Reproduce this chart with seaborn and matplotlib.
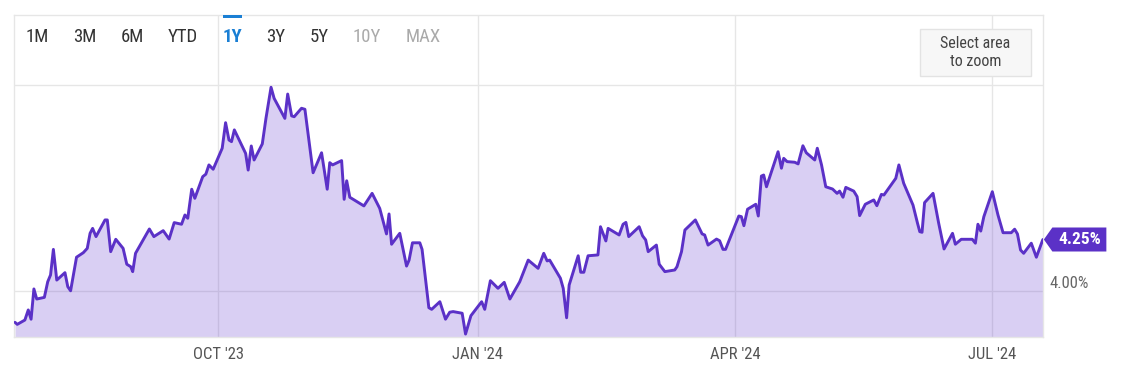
import os
import numpy as np
import pandas as pd
import matplotlib
matplotlib.use("Agg")
import matplotlib.pyplot as plt
import matplotlib.dates as mdates
import matplotlib.transforms as mtransforms
from matplotlib import font_manager as fm
from matplotlib.patches import Polygon, Rectangle
import seaborn as sns

# ---------------- data ----------------
start_date = "2023-07-21"
day_offsets = [
    0.0, 0.8, 3.5, 4.7, 5.7, 6.7, 7.7, 10.4, 11.6, 12.6, 13.6, 14.8, 17.7, 18.7, 19.7, 21.8,
    24.2, 25.6, 26.6, 27.5, 28.7, 31.9, 32.7, 33.9, 35.7, 38.3, 39.6, 41.0, 41.7, 42.7, 47.6,
    49.2, 52.5, 54.6, 56.4, 59.0, 60.2, 61.2, 62.6, 63.7, 66.5, 67.6, 68.7, 70.2, 73.4, 74.6,
    75.8, 76.7, 77.7, 80.8, 81.7, 82.6, 83.7, 84.7, 87.6, 88.9,
    90.7, 91.8, 95.6, 96.6, 98.0, 98.9, 101.5, 102.7, 105.6, 108.6, 110.6, 111.5, 112.5, 115.7,
    116.6, 117.5, 118.6, 123.6, 126.5, 129.2, 131.6, 132.5, 133.4, 136.3, 138.7, 139.6, 140.8,
    143.4, 144.2, 146.6, 147.6, 150.5, 152.5, 154.0, 155.2, 158.4, 159.6, 161.5, 165.3, 166.4,
    168.4, 171.1, 173.3, 175.3, 178.8,
    181.8, 185.3, 187.3, 188.5, 189.4, 193.2, 194.2, 195.4, 196.3, 199.5, 200.4, 201.5, 203.0,
    206.5, 207.4, 209.3, 210.1, 214.0, 215.4, 216.4, 217.4, 221.1, 222.3, 223.4, 224.3, 227.2,
    228.2, 230.2, 233.7, 234.5, 236.1, 237.3, 241.0, 243.4, 244.3, 245.5, 248.5, 249.6, 250.8,
    251.7, 256.4, 257.3, 258.2, 259.5, 262.4, 263.3, 264.4, 265.2, 266.2, 270.3,
    271.5, 272.3, 273.5, 276.2, 277.4, 279.1, 280.3, 283.3, 284.2, 285.7, 287.2, 289.6, 291.2,
    292.1, 293.3, 294.3, 297.1, 298.3, 299.2, 301.2, 304.2, 305.3, 306.9, 307.8, 312.0, 313.1,
    314.8, 318.1, 319.7, 320.5, 321.3, 322.2, 325.2, 327.2, 329.1, 332.1, 333.1, 335.2, 339.1,
    340.2, 341.1, 342.1, 343.2, 346.2, 348.2, 350.0, 352.9, 354.1, 355.1, 356.2, 357.3, 360.0,
    361.8, 364.1,
]
yield_pct = [
    3.848, 3.838, 3.859, 3.908, 3.863, 4.010, 3.961, 3.969, 4.045, 4.078, 4.202, 4.053, 4.089,
    4.021, 4.001, 4.164, 4.186, 4.207, 4.280, 4.304, 4.264, 4.345, 4.345, 4.191, 4.251, 4.207,
    4.130, 4.118, 4.094, 4.183, 4.301, 4.264, 4.293, 4.252, 4.332, 4.324, 4.369, 4.353, 4.494,
    4.450, 4.555, 4.567, 4.612, 4.591, 4.693, 4.817, 4.733, 4.725, 4.782, 4.693, 4.668, 4.587,
    4.704, 4.636, 4.714, 4.838,
    4.989, 4.935, 4.838, 4.956, 4.850, 4.846, 4.887, 4.882, 4.574, 4.671, 4.494, 4.623, 4.612,
    4.633, 4.445, 4.535, 4.455, 4.413, 4.474, 4.401, 4.277, 4.374, 4.227, 4.280, 4.121, 4.150,
    4.234, 4.234, 4.202, 3.919, 3.911, 3.948, 3.863, 3.897, 3.900, 3.892, 3.791, 3.880, 3.948,
    3.911, 4.050, 4.013, 4.042, 3.961, 4.045,
    4.150, 4.110, 4.183, 4.146, 4.150, 4.062, 4.013, 3.870, 4.029, 4.171, 4.091, 4.091, 4.171,
    4.175, 4.312, 4.243, 4.304, 4.272, 4.324, 4.333, 4.264, 4.312, 4.268, 4.248, 4.191, 4.223,
    4.130, 4.094, 4.102, 4.118, 4.191, 4.296, 4.345, 4.277, 4.272, 4.223, 4.252, 4.244, 4.202,
    4.202, 4.364, 4.361, 4.317, 4.397, 4.421, 4.364, 4.558, 4.563, 4.506, 4.676,
    4.596, 4.644, 4.628, 4.625, 4.617, 4.705, 4.671, 4.636, 4.693, 4.612, 4.506, 4.495, 4.474,
    4.485, 4.455, 4.503, 4.485, 4.458, 4.366, 4.421, 4.442, 4.414, 4.469, 4.466, 4.547, 4.612,
    4.523, 4.417, 4.329, 4.288, 4.285, 4.429, 4.474, 4.329, 4.204, 4.280, 4.227, 4.251, 4.251,
    4.232, 4.324, 4.291, 4.361, 4.482, 4.369, 4.283, 4.283, 4.300, 4.277, 4.199, 4.183, 4.232,
    4.164, 4.250,
]
tick_dates = ["2023-10-01", "2024-01-01", "2024-04-01", "2024-07-01"]
tick_labels = ["OCT '23", "JAN '24", "APR '24", "JUL '24"]
y_grid = [4.0, 5.0]
y_labels = ["4.00%", ""]
range_buttons = ["1M", "3M", "6M", "YTD", "1Y", "3Y", "5Y", "10Y", "MAX"]
selected_button = "1Y"
disabled_buttons = ["10Y", "MAX"]
last_label = "4.25%"
zoom_hint = "Select area\nto zoom"

# ---------------- style ----------------
sns.set_theme(style="white")
plt.rcParams["font.family"] = ["Roboto", "DejaVu Sans"]

def pick_font_file(bold):
    prefs = ["robotocondensed", "roboto_condensed", "opensans_condensed", "opensans-condensed",
             "notosans-condensed", "liberationsansnarrow", "dejavusanscondensed"]
    bad = ["italic", "oblique", "light", "thin", "medium", "black", "semi", "extra", "ultra"]
    files = sorted({f.fname for f in fm.fontManager.ttflist})
    for p in prefs:
        for f in files:
            b = os.path.basename(f).replace(" ", "").lower()
            if p not in b:
                continue
            if any(w in b for w in bad):
                continue
            if ("bold" in b) == bold:
                return f
    return None

REG_FILE = pick_font_file(False)
BOLD_FILE = pick_font_file(True)

def fp(size, bold=False):
    f = BOLD_FILE if bold else REG_FILE
    if f:
        return fm.FontProperties(fname=f, size=size)
    return fm.FontProperties(family=["Roboto", "DejaVu Sans"], size=size,
                             weight="bold" if bold else "normal")

LINE = "#5b31c7"
GRID = "#e6e6e6"
W, H = 1123, 366

df = pd.DataFrame({
    "date": pd.Timestamp(start_date) + pd.to_timedelta(day_offsets, unit="D"),
    "yield": yield_pct,
})

fig = plt.figure(figsize=(W / 100, H / 100), dpi=100)
fig.patch.set_facecolor("white")
ax = fig.add_axes([14 / W, 1 - 337 / H, (1043 - 14) / W, (337 - 15) / H])
ax.set_facecolor("white")

y_bottom, y_top = 3.7767, 5.3398
t0 = pd.Timestamp(start_date)
ax.set_xlim(t0 - pd.Timedelta(days=0.35), t0 + pd.Timedelta(days=364.15))
ax.set_ylim(y_bottom, y_top)

ax.fill_between(df["date"], df["yield"], y_bottom, color="#6a40d0", alpha=0.25,
                linewidth=0, zorder=2)
sns.lineplot(data=df, x="date", y="yield", ax=ax, color=LINE, linewidth=2.1,
             zorder=3, estimator=None, sort=False)

# axes / grid
ax.set_xticks(pd.to_datetime(tick_dates))
ax.set_xticklabels(tick_labels, fontproperties=fp(12), color="#555555")
ax.tick_params(axis="x", length=0, pad=7.5)
ax.yaxis.tick_right()
ax.set_yticks(y_grid)
ax.set_yticklabels(y_labels, fontproperties=fp(12), color="#666666")
ax.tick_params(axis="y", length=0, pad=5)
for lab in ax.get_yticklabels():
    lab.set_verticalalignment("bottom")
ax.grid(True, axis="both", color=GRID, linewidth=1, zorder=1)
ax.set_axisbelow(True)
ax.set_xlabel("")
ax.set_ylabel("")
for s in ax.spines.values():
    s.set_color(GRID)
    s.set_linewidth(1)
if ax.get_legend():
    ax.get_legend().remove()

# range selector buttons
btn_x = [37, 84.5, 132, 183, 232.5, 276, 319, 367, 423.5]
for name, bx in zip(range_buttons, btn_x):
    col = "#333333"
    bold = False
    if name == selected_button:
        col = "#1a7fd4"
        bold = True
    elif name in disabled_buttons:
        col = "#aaaaaa"
    fig.text(bx / W, 1 - 37.5 / H, name, ha="center", va="center", color=col,
             fontproperties=fp(13.5, bold=bold))
fig.add_artist(Rectangle((223 / W, 1 - 18 / H), 19 / W, 3.5 / H,
                         transform=fig.transFigure, facecolor="#1a7fd4",
                         edgecolor="none"))

# "Select area to zoom" box
fig.add_artist(Rectangle((920 / W, 1 - 76 / H), 111 / W, 47 / H,
                         transform=fig.transFigure, facecolor="#f7f7f7",
                         edgecolor="#e3e3e3", linewidth=1))
fig.text(975.5 / W, 1 - 52.5 / H, zoom_hint, ha="center", va="center",
         color="#444444", fontproperties=fp(11.5), linespacing=1.2)

# last-value tag
last_x = mdates.date2num(df["date"].iloc[-1])
last_y = df["yield"].iloc[-1]
trans = fig.dpi_scale_trans + mtransforms.ScaledTranslation(last_x, last_y, ax.transData)
tag = Polygon([(0.01, 0.0), (0.095, 0.12), (0.635, 0.12), (0.635, -0.12), (0.095, -0.12)],
              closed=True, transform=trans, facecolor=LINE, edgecolor="none",
              clip_on=False, zorder=5)
ax.add_artist(tag)
ax.text(0.365, -0.005, last_label, transform=trans, ha="center", va="center",
        color="white", fontproperties=fp(12.5, bold=True), clip_on=False, zorder=6)

fig.savefig("out.png", dpi=100, facecolor="white")
